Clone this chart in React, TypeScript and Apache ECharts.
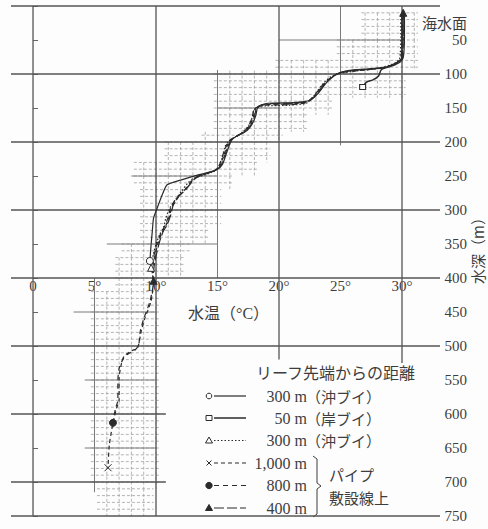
import React, { useEffect, useRef } from "react";
import * as echarts from "echarts";

// ---------- axis ranges ----------
const X_MIN = -1.79;
const X_MAX = 33.09;
const DEPTH_MAX = 750;
const tempTicks = [0, 5, 10, 15, 20, 25, 30];

// ---------- profiles: [temperature °C, depth m] ----------
const buoy300Solid = [[30.2,12],[30.2,45],[30.1,76],[29.8,83],[29.0,89],[27.5,92],[25.6,95],[24.7,100],[23.9,112],[23.1,130],[22.5,139],[21.2,142],[19.1,143],[18.3,148],[18.1,162],[17.8,174],[17.4,183],[16.7,190],[16.2,196],[16.0,203],[15.7,218],[15.4,233],[15.0,240],[14.2,245],[13.3,249],[12.0,256],[10.9,263],[10.5,278],[10.1,297],[9.8,312],[9.7,331],[9.6,351],[9.5,375]];
const shore50 = [[30.0,12],[30.0,45],[30.0,76],[29.7,82],[28.8,90],[28.3,94],[28.1,103],[27.6,109],[27.2,111],[26.9,116],[26.8,119]];
const buoy300Dotted = [[29.9,14],[29.9,45],[29.8,78],[29.3,85],[28.0,92],[26.5,95],[25.0,99],[24.2,104],[23.5,116],[22.8,133],[22.2,143],[20.8,146],[18.9,147],[18.0,152],[17.8,165],[17.5,177],[17.0,186],[16.4,193],[15.9,199],[15.6,207],[15.4,222],[15.1,236],[14.7,243],[13.9,249],[13.1,253],[12.6,260],[12.1,272],[11.6,284],[11.1,298],[10.8,312],[10.6,326],[10.3,336],[10.0,350],[9.8,364],[9.6,385]];
const pipe1000 = [[30.1,14],[30.1,45],[30.0,77],[29.6,83],[28.7,90],[27.0,94],[25.2,97],[24.5,102],[23.7,114],[22.9,132],[22.3,141],[21.0,144],[18.9,145],[18.1,150],[17.9,164],[17.6,176],[17.2,185],[16.5,192],[16.0,198],[15.8,205],[15.5,220],[15.2,235],[14.8,242],[14.0,247],[13.4,251],[12.9,258],[12.4,270],[11.8,281],[11.3,295],[11.1,309],[10.8,323],[10.5,333],[10.2,347],[10.0,361],[9.8,376],[9.7,394],[9.8,404],[9.6,434],[9.1,459],[8.8,478],[8.5,503],[8.0,507],[7.4,515],[7.2,525],[7.0,547],[7.0,581],[6.8,591],[6.5,613],[6.2,646],[6.1,679]];
const pipe800 = [[30.0,14],[30.0,45],[29.9,77],[29.5,84],[28.5,91],[26.8,94],[25.1,98],[24.4,103],[23.6,115],[22.8,133],[22.2,142],[20.9,145],[18.8,146],[18.0,151],[17.8,165],[17.5,177],[17.1,186],[16.4,193],[15.9,199],[15.7,206],[15.4,221],[15.1,236],[14.7,243],[13.9,248],[13.3,252],[12.8,259],[12.3,271],[11.7,282],[11.2,296],[11.0,310],[10.7,324],[10.4,334],[10.1,348],[9.9,362],[9.7,378],[9.7,396],[9.8,405],[9.5,435],[9.0,460],[8.7,480],[8.6,498],[8.3,506],[7.7,512],[7.3,520],[7.0,533],[6.9,550],[6.9,580],[6.7,592],[6.5,613]];
const pipe400 = [[30.1,10],[30.1,45],[30.0,76],[29.7,82],[28.9,90],[27.2,93],[25.4,96],[24.6,101],[23.8,113],[23.0,131],[22.4,140],[21.1,143],[19.0,144],[18.2,149],[18.0,163],[17.7,175],[17.3,184],[16.6,191],[16.1,197],[15.9,204],[15.6,219],[15.3,234],[14.9,241],[14.1,246],[13.4,250],[13.0,257],[12.5,268],[11.9,279],[11.4,293],[11.2,307],[10.9,322],[10.6,331],[10.3,346],[10.1,360],[9.9,376],[9.8,392],[9.8,404]];

// ---------- background graph paper ----------
// hatched range blocks: [tMin, tMax, depthTop, depthBottom]
const hatchBlocks = [
  [27, 31, 10, 50], [25, 31, 50, 80], [20, 31, 80, 95], [15, 30, 95, 135],
  [15, 24, 135, 160], [15, 22, 160, 185], [14, 20, 185, 200], [11, 19, 200, 230],
  [8.5, 18, 230, 250], [8.5, 16, 250, 270], [9, 15, 270, 330], [9, 14, 330, 350],
  [7.5, 12.5, 350, 370], [7, 12, 370, 400], [7, 10, 400, 420], [5, 10, 420, 710],
  [5.5, 9.5, 710, 750],
];
// horizontal lines: [depth, tFrom, tTo]
const majorDepthLines = [
  [0, X_MIN, X_MAX], [100, X_MIN, X_MAX], [200, X_MIN, X_MAX], [300, X_MIN, X_MAX],
  [400, X_MIN, X_MAX], [500, X_MIN, X_MAX], [600, X_MIN, 10.8], [700, X_MIN, 10.8],
  [750, X_MIN, X_MAX],
];
const minorDepthLines = [[50, 20, 30], [150, 15, 20], [250, 8, 15], [350, 6, 15], [450, 3.3, 10], [550, 4.2, 10], [650, 4.2, 10]];
// vertical lines: [temp, depthFrom, depthTo]
const majorTempLines = [[0, 0, 750], [10, 0, 750], [20, 0, 520], [30, 0, 525]];
const minorTempLines = [[25, 0, 205], [15, 94, 400], [5, 400, 715]];

// ---------- legend ----------
const legendHeader = "リーフ先端からの距離";
const legendDistances = ["300 m", "50 m", "300 m", "1,000 m", "800 m", "400 m"];
const legendNotes = ["（沖ブイ）", "（岸ブイ）", "（沖ブイ）", "", "", ""];
const pipeNote = ["パイプ", "敷設線上"];

const INK = "#2b2b2b";
const TXT = "#3d3d3d";
const FONT = "'Liberation Serif', 'Noto Sans CJK JP', serif";
const CJK = "'Noto Sans CJK JP', sans-serif";

const seriesDefs = [
  { name: "300 m（沖ブイ）", data: buoy300Solid, dash: "solid" as any, width: 1.2, marker: "circle", filled: false },
  { name: "50 m（岸ブイ）", data: shore50, dash: "solid" as any, width: 1.5, marker: "rect", filled: false },
  { name: "300 m（沖ブイ）点線", data: buoy300Dotted, dash: [1.5, 2], width: 1.2, marker: "triangle", filled: false },
  { name: "1,000 m", data: pipe1000, dash: [4, 3], width: 1.2, marker: "cross", filled: false },
  { name: "800 m", data: pipe800, dash: [5, 4], width: 1.2, marker: "circle", filled: true },
  { name: "400 m", data: pipe400, dash: [10, 3], width: 1.2, marker: "triangle", filled: true },
];

const CROSS_PATH = "path://M0 0L10 10M10 0L0 10";

function markerSymbol(m: string) {
  return m === "cross" ? CROSS_PATH : m;
}

function hLineRender(color: string, width: number) {
  return (params: any, api: any) => {
    const d = api.value(0), t1 = api.value(1), t2 = api.value(2);
    const a = api.coord([t1, d]);
    const b = api.coord([t2, d]);
    return { type: "line", shape: { x1: a[0], y1: a[1], x2: b[0], y2: b[1] }, style: { stroke: color, lineWidth: width } };
  };
}
function vLineRender(color: string, width: number) {
  return (params: any, api: any) => {
    const t = api.value(0), d1 = api.value(1), d2 = api.value(2);
    const a = api.coord([t, d1]);
    const b = api.coord([t, d2]);
    return { type: "line", shape: { x1: a[0], y1: a[1], x2: b[0], y2: b[1] }, style: { stroke: color, lineWidth: width } };
  };
}
function hatchRender(params: any, api: any) {
  const t0 = api.value(0), t1 = api.value(1), d0 = api.value(2), d1 = api.value(3);
  const style = { stroke: "#a2a2a2", lineWidth: 0.8, lineDash: [3, 2] };
  const children: any[] = [];
  for (let d = Math.ceil(d0 / 10) * 10; d < d1; d += 10) {
    const a = api.coord([t0 - 0.3, d]);
    const b = api.coord([t1 + 0.3, d]);
    children.push({ type: "line", shape: { x1: a[0], y1: a[1], x2: b[0], y2: b[1] }, style });
  }
  for (let t = Math.ceil(t0); t <= t1; t += 1) {
    const a = api.coord([t, d0]);
    const b = api.coord([t, d1]);
    children.push({ type: "line", shape: { x1: a[0], y1: a[1], x2: b[0], y2: b[1] }, style });
  }
  return { type: "group", children };
}

function txt(text: string, x: number, y: number, size: number, align: string, family = FONT, extra: any = {}) {
  return {
    type: "text",
    x, y,
    ...extra,
    style: {
      text, fill: TXT, fontSize: size, fontFamily: family,
      align, textAlign: align, verticalAlign: "middle", textVerticalAlign: "middle",
    },
  };
}

function legendGraphics() {
  const els: any[] = [];
  const rowY = [396, 418, 440.5, 463, 485.5, 508];
  const mx = 209, lx1 = 214, lx2 = 246;
  seriesDefs.forEach((s, i) => {
    const y = rowY[i];
    const lineDash = s.dash === "solid" ? null : s.dash;
    els.push({ type: "line", shape: { x1: lx1, y1: y, x2: lx2, y2: y }, style: { stroke: INK, lineWidth: s.width, lineDash } });
    const fill = s.filled ? INK : "#fdfdfd";
    if (s.marker === "circle") {
      els.push({ type: "circle", shape: { cx: mx, cy: y, r: s.filled ? 3.2 : 2.8 }, style: { fill, stroke: INK, lineWidth: 1 } });
    } else if (s.marker === "rect") {
      els.push({ type: "rect", shape: { x: mx - 3, y: y - 2.5, width: 6, height: 5 }, style: { fill, stroke: INK, lineWidth: 1 } });
    } else if (s.marker === "triangle") {
      els.push({ type: "polygon", shape: { points: [[mx, y - 3.5], [mx + 3.5, y + 2.5], [mx - 3.5, y + 2.5]] }, style: { fill, stroke: INK, lineWidth: 1 } });
    } else {
      els.push({ type: "line", shape: { x1: mx - 2.5, y1: y - 2.5, x2: mx + 2.5, y2: y + 2.5 }, style: { stroke: INK, lineWidth: 1 } });
      els.push({ type: "line", shape: { x1: mx + 2.5, y1: y - 2.5, x2: mx - 2.5, y2: y + 2.5 }, style: { stroke: INK, lineWidth: 1 } });
    }
    els.push(txt(legendDistances[i], 307, y, 16, "right"));
    if (legendNotes[i]) els.push(txt(legendNotes[i], 306, y, 15, "left", CJK));
  });
  els.push(txt(legendHeader, 256, 372, 16, "left", CJK));
  els.push({
    type: "polyline",
    shape: { points: [[313, 456], [317, 459], [317, 483], [321, 486], [317, 489], [317, 514], [313, 517]] },
    style: { stroke: TXT, lineWidth: 1, fill: null },
  });
  els.push(txt(pipeNote[0], 329, 474, 15, "left", CJK));
  els.push(txt(pipeNote[1], 329, 497, 15, "left", CJK));
  return els;
}

function buildOption() {
  const lineSeries = seriesDefs.map((s) => {
    const data: any[] = s.data.map((p) => ({ value: p }));
    const last = data.length - 1;
    const markerStyle = {
      color: s.filled ? INK : "#fdfdfd",
      borderColor: INK,
      borderWidth: 1,
    };
    data[last] = {
      value: s.data[last],
      symbol: markerSymbol(s.marker),
      symbolSize: s.marker === "rect" ? [6, 5] : 7,
      itemStyle: markerStyle,
    };
    if (s.marker === "triangle" && s.filled) {
      data[0] = { value: s.data[0], symbol: "triangle", symbolSize: 7, itemStyle: markerStyle };
    }
    return {
      type: "line",
      name: s.name,
      xAxisIndex: 0,
      yAxisIndex: 0,
      data,
      symbol: "none",
      showSymbol: true,
      smooth: 0.2,
      z: 5,
      lineStyle: { color: INK, width: s.width, type: s.dash },
      itemStyle: { color: INK },
    };
  });

  return {
    animation: false,
    backgroundColor: "#fdfdfd",
    grid: [
      { left: 11, top: 6, width: 429, height: 510 },
      { left: 11, top: 6, width: 429, height: 272 },
    ],
    xAxis: [
      { gridIndex: 0, type: "value", min: X_MIN, max: X_MAX, show: false },
      {
        gridIndex: 1, type: "value", min: X_MIN, max: X_MAX,
        axisLine: { show: false }, axisTick: { show: false }, splitLine: { show: false },
        axisLabel: {
          customValues: tempTicks,
          formatter: (v: number) => (v === 0 ? "0" : v + "°"),
          color: TXT, fontSize: 15, fontFamily: FONT, margin: 0,
        },
      },
    ],
    yAxis: [
      {
        gridIndex: 0, type: "value", inverse: true, min: 0, max: DEPTH_MAX, interval: 50,
        position: "right",
        axisLine: { show: false },
        axisTick: { show: true, length: 5, lineStyle: { color: "#666", width: 1 } },
        splitLine: { show: false },
        axisLabel: {
          formatter: (v: number) => (v === 0 ? "" : String(v)),
          align: "right", margin: 27, color: TXT, fontSize: 15, fontFamily: FONT,
        },
      },
      { gridIndex: 1, type: "value", inverse: true, min: 0, max: 400, show: false },
    ],
    series: [
      { type: "custom", xAxisIndex: 0, yAxisIndex: 0, data: hatchBlocks, renderItem: hatchRender, clip: false, z: 1, silent: true },
      { type: "custom", xAxisIndex: 0, yAxisIndex: 0, data: minorDepthLines, renderItem: hLineRender("#7a7a7a", 1), clip: false, z: 2, silent: true },
      { type: "custom", xAxisIndex: 0, yAxisIndex: 0, data: minorTempLines, renderItem: vLineRender("#7a7a7a", 1), clip: false, z: 2, silent: true },
      { type: "custom", xAxisIndex: 0, yAxisIndex: 0, data: majorDepthLines, renderItem: hLineRender("#555", 1.3), clip: false, z: 3, silent: true },
      { type: "custom", xAxisIndex: 0, yAxisIndex: 0, data: majorTempLines, renderItem: vLineRender("#555", 1.3), clip: false, z: 3, silent: true },
      ...lineSeries,
    ],
    graphic: [
      txt("海水面", 467, 22, 15, "right", CJK),
      txt("水深（m）", 477, 247, 15, "center", CJK, { rotation: Math.PI / 2 }),
      txt("水温（°C）", 188, 313, 16, "left", FONT),
      ...legendGraphics(),
    ],
  };
}

export default function App() {
  const ref = useRef<HTMLDivElement>(null);
  useEffect(() => {
    const chart = echarts.init(ref.current!, null, { renderer: "svg" });
    chart.setOption(buildOption() as any);
    return () => chart.dispose();
  }, []);
  return <div ref={ref} style={{ position: "fixed", left: 0, top: 0, width: 488, height: 529 }} />;
}
